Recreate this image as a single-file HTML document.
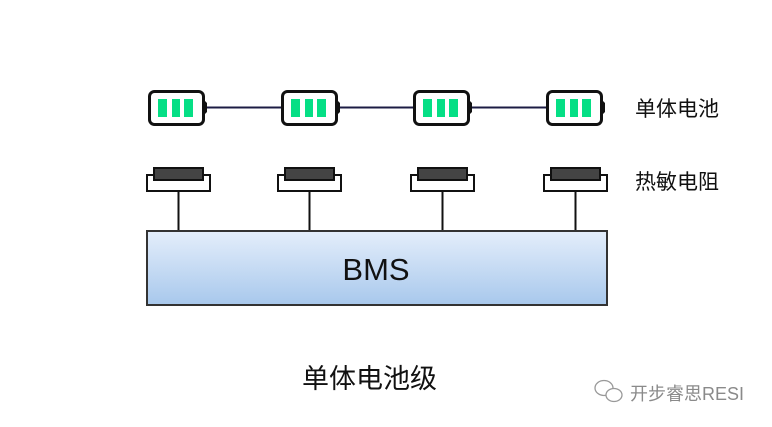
<!DOCTYPE html>
<html><head><meta charset="utf-8"><style>
html,body{margin:0;padding:0;background:#fff;}
svg{display:block;}
</style></head><body>
<svg width="772" height="427" viewBox="0 0 772 427" xmlns="http://www.w3.org/2000/svg">
<defs>
<linearGradient id="g" x1="0" y1="0" x2="0" y2="1">
<stop offset="0" stop-color="#e4eefb"/>
<stop offset="1" stop-color="#a8c8ec"/>
</linearGradient>
<g id="bat">
<path d="M56 10 L59 13 L59 22 L56 25 Z" fill="#111"/>
<rect x="1.5" y="1.5" width="54" height="33" rx="5" ry="5" fill="#fff" stroke="#111" stroke-width="3"/>
<rect x="10" y="9" width="9" height="18" fill="#05df85"/>
<rect x="24" y="9" width="8" height="18" fill="#05df85"/>
<rect x="36" y="9" width="9" height="18" fill="#05df85"/>
</g>
<g id="res">
<rect x="1" y="8" width="63" height="16" fill="#fff" stroke="#111" stroke-width="2"/>
<rect x="8" y="1" width="49" height="12" fill="#444" stroke="#111" stroke-width="2"/>
<line x1="32.5" y1="24" x2="32.5" y2="64" stroke="#111" stroke-width="2"/>
</g>
</defs>
<line x1="206" y1="107.5" x2="550" y2="107.5" stroke="#1c1c44" stroke-width="2"/>
<use href="#bat" x="148" y="90"/>
<use href="#bat" x="281" y="90"/>
<use href="#bat" x="413" y="90"/>
<use href="#bat" x="546" y="90"/>
<use href="#res" x="146" y="167"/>
<use href="#res" x="277" y="167"/>
<use href="#res" x="410" y="167"/>
<use href="#res" x="543" y="167"/>
<rect x="147" y="231" width="460" height="74" fill="url(#g)" stroke="#333" stroke-width="2"/>
<text x="376" y="280" text-anchor="middle" font-family="Liberation Sans, sans-serif" font-size="31" fill="#111">BMS</text>
<text x="635" y="116" font-family="Liberation Sans, Noto Sans CJK SC, sans-serif" font-size="21" fill="#111">单体电池</text>
<text x="635" y="189" font-family="Liberation Sans, Noto Sans CJK SC, sans-serif" font-size="21" fill="#111">热敏电阻</text>
<text x="302" y="388" font-family="Liberation Sans, Noto Sans CJK SC, sans-serif" font-size="27" fill="#111">单体电池级</text>
<g fill="none" stroke="#999" stroke-width="1.3">
<ellipse cx="604" cy="388" rx="9" ry="7.5" fill="#fff"/>
<ellipse cx="614" cy="395" rx="8" ry="6.5" fill="#fff"/>
</g>
<text x="630" y="400" font-family="Liberation Sans, Noto Sans CJK SC, sans-serif" font-size="18" fill="#8a8a8a">开步睿思RESI</text>
</svg>
</body></html>
